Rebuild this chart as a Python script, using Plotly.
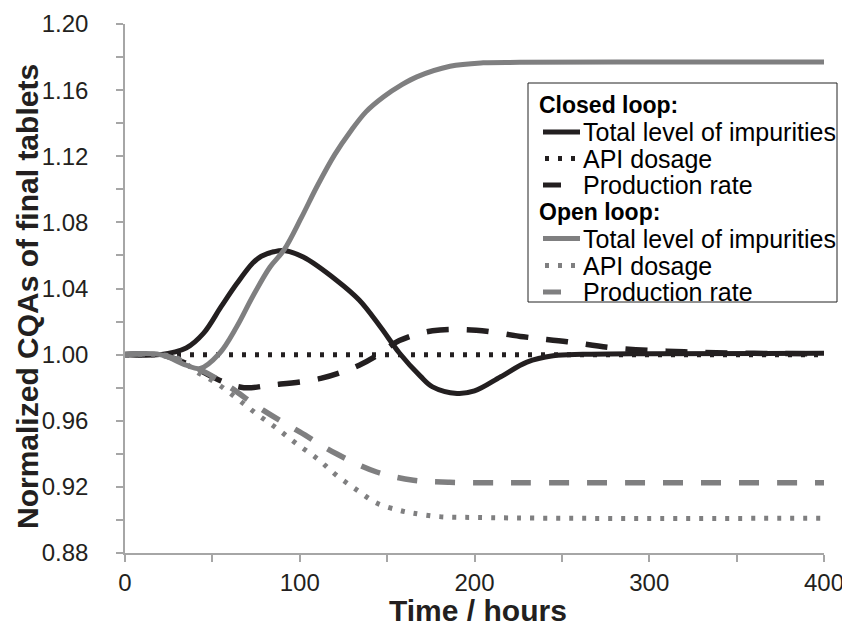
import plotly.graph_objects as go

# closed loop
ci_t = [0, 20, 35, 45, 55, 64, 73, 78, 85, 91, 102, 121, 134, 146, 157, 169, 176, 190, 200, 215, 230, 245, 262, 300, 400]
ci_y = [1.0, 1.0, 1.004, 1.013, 1.029, 1.043, 1.0553, 1.0595, 1.0622, 1.063, 1.059, 1.045, 1.033, 1.017, 1.001,
        0.987, 0.9805, 0.9765, 0.978, 0.9866, 0.9955, 0.9993, 1.0002, 1.0006, 1.0008]
ca_t = [0, 400]
ca_y = [1.0, 1.0]
cp_t = [0, 20, 35, 54, 68, 83, 112, 134, 145, 157, 176, 201, 228, 253, 282, 320, 360, 400]
cp_y = [1.0, 1.0, 0.9947, 0.9845, 0.980, 0.9815, 0.9856, 0.9936, 1.0, 1.0085, 1.0144, 1.0148, 1.0108,
        1.0078, 1.0038, 1.0017, 1.0008, 1.0005]

# open loop
oi_t = [0, 20, 35, 43, 54, 64, 73, 83, 91, 101, 110, 120, 129, 138, 148, 158, 167, 186, 205, 226, 300, 400]
oi_y = [1.0, 1.0, 0.9936, 0.9916, 1.0007, 1.017, 1.035, 1.053, 1.0633, 1.083, 1.102, 1.121, 1.135, 1.147,
        1.156, 1.163, 1.168, 1.1744, 1.1765, 1.1768, 1.177, 1.177]
oa_t = [0, 20, 30, 41, 52.5, 64, 75, 87, 98, 110, 121, 133, 144, 157, 165, 180, 200, 250, 400]
oa_y = [1.0, 1.0, 0.998, 0.9896, 0.9826, 0.9735, 0.9644, 0.9553, 0.9462, 0.9371, 0.927, 0.9179, 0.9102,
        0.9058, 0.9041, 0.902, 0.9015, 0.901, 0.901]
op_t = [0, 20, 35, 54, 79, 100, 121, 144, 165, 185, 210, 250, 400]
op_y = [1.0, 1.0, 0.9947, 0.9845, 0.9664, 0.9532, 0.940, 0.929, 0.924, 0.9228, 0.9225, 0.9225, 0.9225]

legend_groups = ["Closed loop:", "Open loop:"]
legend_names = ["Total level of impurities", "API dosage", "Production rate"]

BLACK = "#231f20"
GRAY = "#7f7f80"
AXIS = "#a6a6a6"
FONT = "Arial, Liberation Sans, sans-serif"
DOT = "4px,9px"

# the page body adds an 8px margin, so the figure is 8px smaller than the window
W, H = 842, 622
ML, MR, MT, MB = 117, 26, 16, 77
PW, PH = W - ML - MR, H - MT - MB


def px(x, y):
    # window pixel -> paper coordinates
    return (x - 8 - ML) / PW, (H + 8 - MB - y) / PH


fig = go.Figure()
styles = [
    (ci_t, ci_y, BLACK, "solid", 5),
    (ca_t, ca_y, BLACK, DOT, 5),
    (cp_t, cp_y, BLACK, "22px,18px", 5.5),
    (oi_t, oi_y, GRAY, "solid", 5),
    (oa_t, oa_y, GRAY, DOT, 5),
    (op_t, op_y, GRAY, "20px,18px", 5.5),
]
for t, y, col, dash, w in styles:
    fig.add_trace(go.Scatter(
        x=t, y=y, mode="lines", showlegend=False,
        line=dict(color=col, width=w, dash=dash, shape="spline", smoothing=1.0),
    ))

# legend box drawn by hand
x0, y0 = px(528, 83)
x1, y1 = px(837, 302)
fig.add_shape(type="rect", xref="paper", yref="paper", x0=x0, y0=y0, x1=x1, y1=y1,
              line=dict(color="#222", width=1), fillcolor="white", layer="above")
row_y = [105, 132, 158.5, 185, 212, 238.5, 265.5, 292]
samples = [("solid", 543, 580), (DOT, 545, 578), ("18px,30px", 543, 561)]
for g, group in enumerate(legend_groups):
    col = BLACK if g == 0 else GRAY
    base = g * 4
    ax, ay = px(537, row_y[base])
    fig.add_annotation(xref="paper", yref="paper", x=ax, y=ay, text="<b>" + group + "</b>",
                       showarrow=False, xanchor="left", yanchor="middle",
                       font=dict(family=FONT, size=23, color="black"))
    for k, name in enumerate(legend_names):
        ry = row_y[base + 1 + k]
        dash, sx0, sx1 = samples[k]
        lx0, ly = px(sx0, ry)
        lx1, _ = px(sx1, ry)
        fig.add_shape(type="line", xref="paper", yref="paper", x0=lx0, y0=ly, x1=lx1, y1=ly,
                      line=dict(color=col, width=5, dash=dash), layer="above")
        tx, ty = px(581, ry)
        fig.add_annotation(xref="paper", yref="paper", x=tx, y=ty, text=name,
                           showarrow=False, xanchor="left", yanchor="middle",
                           font=dict(family=FONT, size=25, color="black"))

# axis titles
tx, ty = px(27, 297)
fig.add_annotation(xref="paper", yref="paper", x=tx, y=ty, text="<b>Normalized CQAs of final tablets</b>",
                   textangle=-90, showarrow=False, xanchor="center", yanchor="middle",
                   font=dict(family=FONT, size=30, color=BLACK))
tx, ty = px(478, 629)
fig.add_annotation(xref="paper", yref="paper", x=tx, y=ty, text="<b>Time / hours</b>",
                   showarrow=False, xanchor="center", yanchor="bottom",
                   font=dict(family=FONT, size=30, color=BLACK))

axis_common = dict(
    showline=True, linecolor=AXIS, linewidth=1.5,
    ticks="outside", ticklen=7, tickcolor=AXIS, tickwidth=1.5,
    showgrid=False, zeroline=False, automargin=False,
    tickfont=dict(family=FONT, size=24, color=BLACK),
)
fig.update_xaxes(
    range=[0, 400], tickvals=[0, 100, 200, 300, 400],
    minor=dict(tickvals=[50, 150, 250, 350], ticks="outside", ticklen=7, tickcolor=AXIS, tickwidth=1.5),
    ticklabelstandoff=0,
    **axis_common,
)
fig.update_yaxes(
    range=[0.88, 1.20], tickvals=[0.88, 0.92, 0.96, 1.00, 1.04, 1.08, 1.12, 1.16, 1.20],
    ticktext=["0.88", "0.92", "0.96", "1.00", "1.04", "1.08", "1.12", "1.16", "1.20"],
    minor=dict(tickvals=[0.90, 0.94, 0.98, 1.02, 1.06, 1.10, 1.14, 1.18],
               ticks="outside", ticklen=7, tickcolor=AXIS, tickwidth=1.5),
    ticklabelstandoff=23,
    **axis_common,
)
fig.update_layout(
    width=W, height=H,
    margin=dict(l=ML, r=MR, t=MT, b=MB),
    plot_bgcolor="white", paper_bgcolor="white",
    font=dict(family=FONT, size=24, color="black"),
    showlegend=False,
)

fig.write_html("out.html")
